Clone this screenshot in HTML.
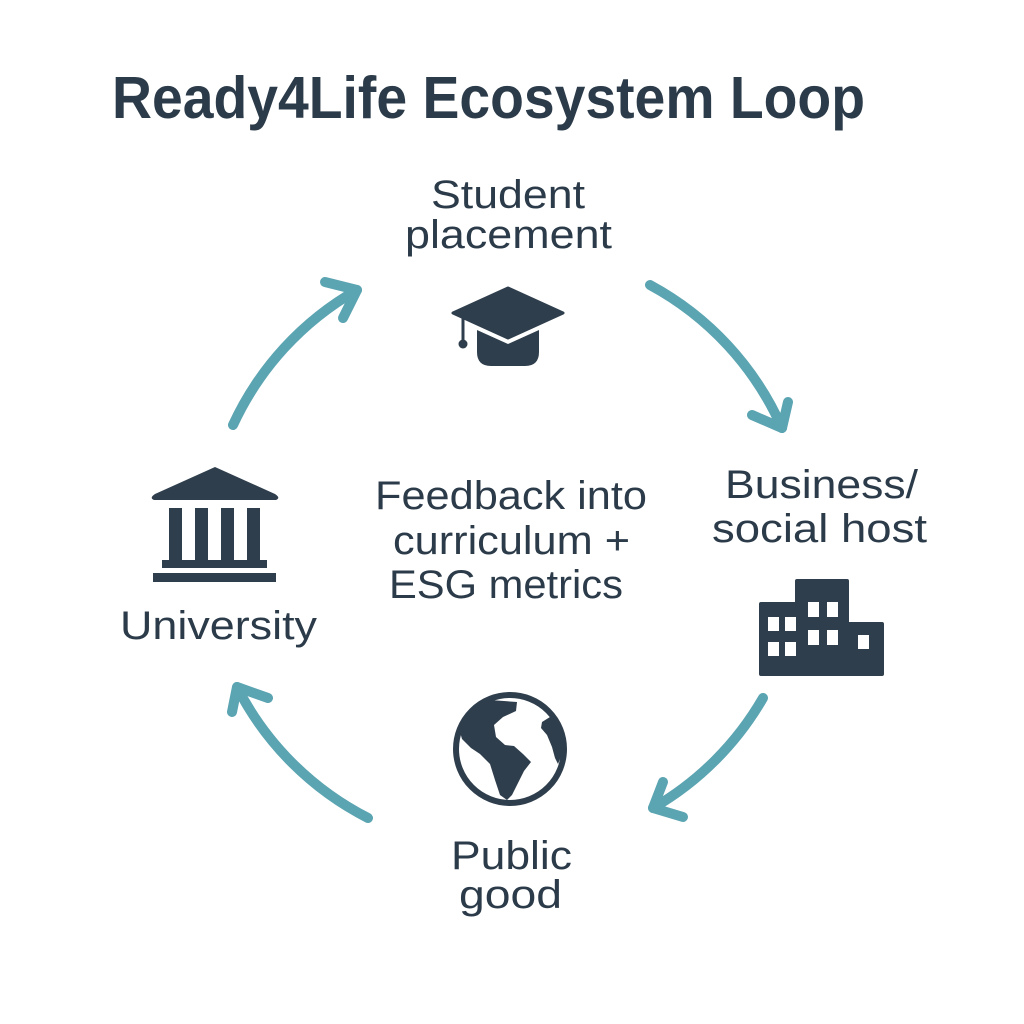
<!DOCTYPE html>
<html>
<head>
<meta charset="utf-8">
<style>
  html,body{margin:0;padding:0;background:#ffffff;}
  svg{display:block;}
  text{font-family:"Liberation Sans", sans-serif; fill:#2c3b49;}
</style>
</head>
<body>
<svg width="1024" height="1024" viewBox="0 0 1024 1024" xmlns="http://www.w3.org/2000/svg">
  <rect width="1024" height="1024" fill="#ffffff"/>

  <!-- Title -->
  <text x="112" y="118" font-size="59" font-weight="bold" textLength="753" lengthAdjust="spacingAndGlyphs">Ready4Life Ecosystem Loop</text>

  <!-- Arrows -->
  <g fill="none" stroke="#5ba4b1" stroke-width="10" stroke-linecap="round" stroke-linejoin="round">
    <path d="M233,425 A300,300 0 0 1 357,290"/>
    <path d="M325,282 L357,290 L343,318"/>
    <path d="M650,285 A300,300 0 0 1 782,428"/>
    <path d="M752,415 L782,428 L788,402"/>
    <path d="M763,698 A300,300 0 0 1 653,808"/>
    <path d="M663,782 L653,808 L683,817"/>
    <path d="M368,818 A300,300 0 0 1 237,687"/>
    <path d="M232,712 L237,687 L268,698"/>
  </g>

  <!-- Student placement -->
  <text x="431" y="208" font-size="40" textLength="154" lengthAdjust="spacingAndGlyphs">Student</text>
  <text x="405" y="248" font-size="40" textLength="207" lengthAdjust="spacingAndGlyphs">placement</text>

  <!-- Graduation cap -->
  <g fill="#2f3e4c">
    <path d="M477,330 L508,344 L539,330 L539,352 Q539,366 525,366 L491,366 Q477,366 477,352 Z"/>
    <path d="M508,288 L563,313 L508,338 L453,313 Z" stroke="#2f3e4c" stroke-width="3" stroke-linejoin="round"/>
    <rect x="461.5" y="314" width="3" height="28"/>
    <circle cx="463" cy="344" r="4.5"/>
  </g>

  <!-- Business / social host -->
  <text x="725" y="498" font-size="40" textLength="193" lengthAdjust="spacingAndGlyphs">Business/</text>
  <text x="712" y="542" font-size="40" textLength="215" lengthAdjust="spacingAndGlyphs">social host</text>

  <!-- Building -->
  <g>
    <path fill="#2f3e4c" d="M761,602 L795,602 L795,581 Q795,579 797,579 L847,579 Q849,579 849,581 L849,622 L882,622 Q884,622 884,624 L884,674 Q884,676 882,676 L761,676 Q759,676 759,674 L759,604 Q759,602 761,602 Z"/>
    <g fill="#ffffff">
      <rect x="768" y="617" width="11" height="14"/>
      <rect x="785" y="617" width="11" height="14"/>
      <rect x="768" y="642" width="11" height="14"/>
      <rect x="785" y="642" width="11" height="14"/>
      <rect x="808" y="602" width="11" height="15"/>
      <rect x="827" y="602" width="11" height="15"/>
      <rect x="808" y="630" width="11" height="15"/>
      <rect x="827" y="630" width="11" height="15"/>
      <rect x="858" y="635" width="11" height="14"/>
    </g>
  </g>

  <!-- University -->
  <g fill="#2f3e4c">
    <path d="M215,467 L275,494 Q281,498 276,500 L154,500 Q149,498 155,494 Z"/>
    <rect x="169" y="508" width="13" height="52"/>
    <rect x="195" y="508" width="13" height="52"/>
    <rect x="221" y="508" width="13" height="52"/>
    <rect x="247" y="508" width="13" height="52"/>
    <rect x="162" y="560" width="105" height="8"/>
    <rect x="153" y="573" width="123" height="9"/>
  </g>
  <text x="120" y="639" font-size="40" textLength="197" lengthAdjust="spacingAndGlyphs">University</text>

  <!-- Center text -->
  <text x="375" y="509" font-size="40" textLength="272" lengthAdjust="spacingAndGlyphs">Feedback into</text>
  <text x="393" y="554" font-size="40" textLength="237" lengthAdjust="spacingAndGlyphs">curriculum +</text>
  <text x="389" y="598" font-size="40" textLength="234" lengthAdjust="spacingAndGlyphs">ESG metrics</text>

  <!-- Globe -->
  <g>
    <circle cx="510" cy="749" r="54" fill="none" stroke="#2f3e4c" stroke-width="6"/>
    <path fill="#2f3e4c" d="M460,732 L465,718 L477,705 L490,700 L517,702 L516,711 L503,717 L494,725 L496,737 L505,745 L514,746 L523,754 L531,762 L524,771 L518,783 L512,795 L507,800 L500,795 L495,780 L490,764 L480,754 L471,748 L462,739 Z"/>
    <path fill="#2f3e4c" d="M542,722 L550,717 L555,722 L561,737 L563,752 L558,764 L555,758 L552,747 L547,735 L541,728 Z"/>
  </g>

  <!-- Public good -->
  <text x="451" y="869" font-size="40" textLength="121" lengthAdjust="spacingAndGlyphs">Public</text>
  <text x="459" y="908" font-size="40" textLength="103" lengthAdjust="spacingAndGlyphs">good</text>
</svg>
</body>
</html>
